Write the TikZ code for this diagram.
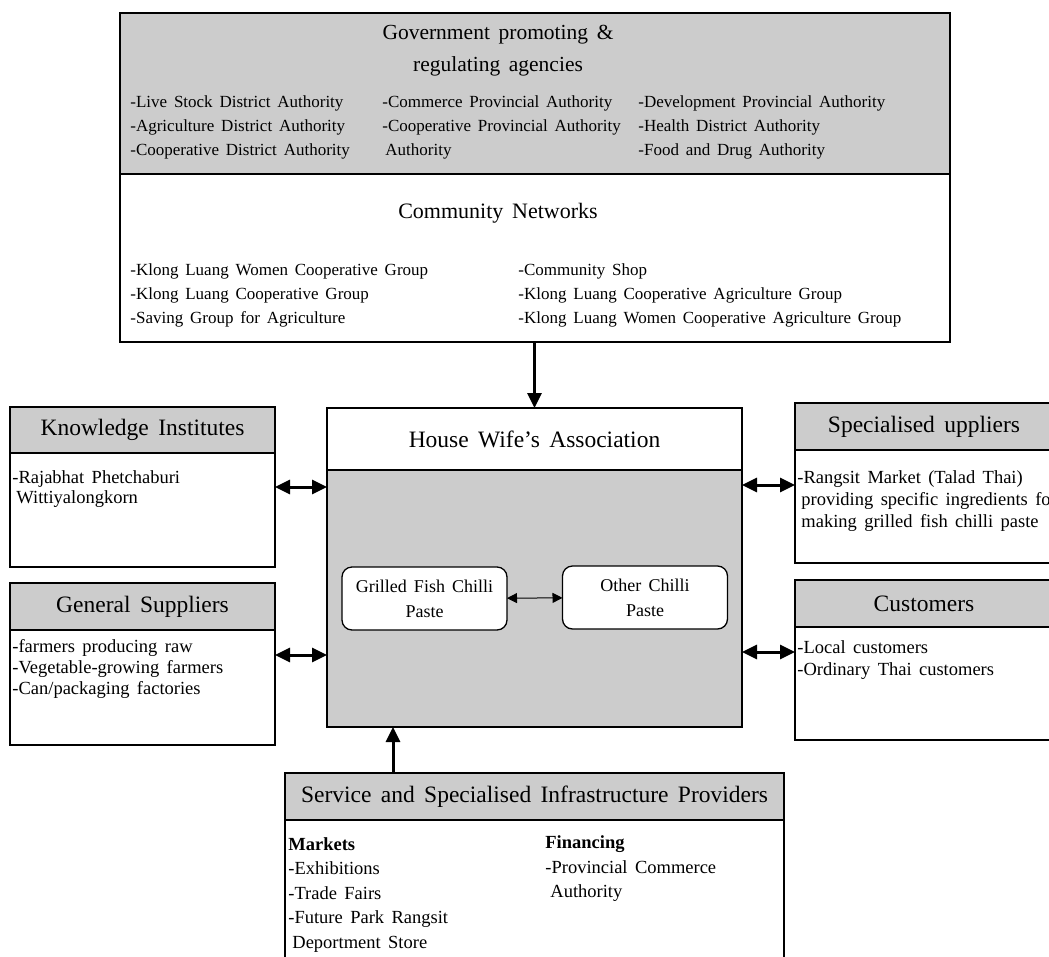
\documentclass[tikz,border=0pt]{standalone}
\usepackage{fontspec}
\setmainfont{Liberation Serif}[WordSpace=1.6]
\usetikzlibrary{calc, arrows.meta}

\tikzset{
box/.style={draw, line width=2.5pt, inner sep=0pt, outer sep=0pt},
headbox/.style={box, fill=black!20, font=\fontsize{23.5}{26}\selectfont},
item/.style={anchor=base west, inner sep=0pt, font=\fontsize{17}{20}\selectfont},
sideitem/.style={item, font=\fontsize{18.5}{21}\selectfont},
paste/.style={draw, fill=white, line width=1.3pt, rounded corners=10pt, align=center,
  minimum width=165pt, minimum height=63pt, inner sep=0pt, outer sep=0pt,
  font=\fontsize{18}{25}\selectfont},
bigarrow/.style={line width=3pt, {Triangle[length=15pt,width=14pt]}-{Triangle[length=15pt,width=14pt]}},
onearrow/.style={line width=3pt, -{Triangle[length=15pt,width=14pt]}},
smallarrow/.style={line width=1pt, {Triangle[length=10pt,width=10pt]}-{Triangle[length=10pt,width=10pt]}}
}

\begin{document}
\begin{tikzpicture}[thick, x=1pt, y=-1pt]
\useasboundingbox (0,0) rectangle (1049,956);
\clip (0,0) rectangle (1049,956);
					%%
\node[box, fill=black!20, minimum width=830pt, minimum height=161pt, anchor=north west] (gov) at (120,13) {};
\node[box, minimum width=830pt, minimum height=168pt, anchor=north west] (com) at (gov.south west) {};

\node[align=center, font=\fontsize{21.5}{32}\selectfont] (govt) at (498,51) {Government promoting \&\\regulating agencies};
\node[font=\fontsize{22}{24}\selectfont] (comt) at (498,213) {Community Networks};

\foreach \t [count=\i] in {-Live Stock District Authority, -Agriculture District Authority, -Cooperative District Authority}
\node[item] (ga\i) at (130, 83+24*\i) {\t};
\foreach \t [count=\i] in {-Commerce Provincial Authority, -Cooperative Provincial Authority, {\hspace*{3pt}Authority}}
\node[item] (gb\i) at (382, 83+24*\i) {\t};
\foreach \t [count=\i] in {-Development Provincial Authority, -Health District Authority, -Food and Drug Authority}
\node[item] (gc\i) at (638, 83+24*\i) {\t};

\foreach \t [count=\i] in {-Klong Luang Women Cooperative Group, -Klong Luang Cooperative Group, -Saving Group for Agriculture}
\node[item] (ca\i) at (130, 251+24*\i) {\t};
\foreach \t [count=\i] in {-Community Shop, -Klong Luang Cooperative Agriculture Group, -Klong Luang Women Cooperative Agriculture Group}
\node[item] (cb\i) at (518, 251+24*\i) {\t};

%% house wife's association
\node[box, fill=black!20, minimum width=415pt, minimum height=319pt, anchor=north west] (hwa) at (327,408) {};
\node[headbox, fill=white, minimum width=415pt, minimum height=62pt, anchor=north west] (hwah) at (hwa.north west) {House Wife's Association};
\node[paste] (gfc) at (424.5,598.5) {Grilled Fish Chilli\\Paste};
\node[paste] (ocp) at (645,597.5) {Other Chilli\\Paste};
\draw[smallarrow] (gfc) -- (ocp);

%% left side
\node[box, minimum width=265pt, minimum height=160pt, anchor=north west] (kno) at (10,407) {};
\node[headbox, minimum width=265pt, minimum height=46pt, anchor=north west] (knoh) at (kno.north west) {Knowledge Institutes};
\node[sideitem] (kno1) at (12,483) {-Rajabhat Phetchaburi};
\node[sideitem] (kno2) at (16,503) {Wittiyalongkorn};

\node[box, minimum width=265pt, minimum height=162pt, anchor=north west] (gen) at (10,583) {};
\node[headbox, minimum width=265pt, minimum height=47pt, anchor=north west] (genh) at (gen.north west) {General Suppliers};
\foreach \t [count=\i] in {-farmers producing raw, -Vegetable-growing farmers, -Can/packaging factories}
\node[sideitem] (gen\i) at (12, 631+21*\i) {\t};

%% right side
\node[box, minimum width=258pt, minimum height=160pt, anchor=north west] (spe) at (795,403) {};
\node[headbox, minimum width=258pt, minimum height=47pt, anchor=north west] (speh) at (spe.north west) {Specialised uppliers};
\node[sideitem] (spe1) at (797,483) {-Rangsit Market (Talad Thai)};
\node[sideitem] (spe2) at (801,505) {providing specific ingredients for};
\node[sideitem] (spe3) at (801,527) {making grilled fish chilli paste};

\node[box, minimum width=258pt, minimum height=160pt, anchor=north west] (cus) at (795,580) {};
\node[headbox, minimum width=258pt, minimum height=47pt, anchor=north west] (cush) at (cus.north west) {Customers};
\node[sideitem] (cus1) at (797,653) {-Local customers};
\node[sideitem] (cus2) at (797,675) {-Ordinary Thai customers};

%% bottom
\node[box, minimum width=499pt, minimum height=200pt, anchor=north west] (svc) at (285,773) {};
\node[headbox, minimum width=499pt, minimum height=47pt, anchor=north west] (svch) at (svc.north west) {Service and Specialised Infrastructure Providers};
\node[sideitem] (mk0) at (288,850) {\bfseries Markets};
\foreach \t [count=\i] in {-Exhibitions, -Trade Fairs, -Future Park Rangsit}
\node[sideitem] (mk\i) at (288, 850+24.5*\i) {\t};
\node[sideitem] (mk4) at (292,948) {Deportment Store};
\node[sideitem] (fn0) at (545,848) {\bfseries Financing};
\node[sideitem] (fn1) at (545,873) {-Provincial Commerce};
\node[sideitem] (fn2) at (550,897) {Authority};

%% connectors
\coordinate (up) at (393,773);
\draw[onearrow] (com.south -| hwa.north) -- (hwa.north);
\draw[onearrow] (up) -- (up |- hwa.south);
\draw[bigarrow] (kno.east) -- (kno.east -| hwa.west);
\draw[bigarrow] ([yshift=9pt]gen.east) -- ([yshift=9pt]gen.east -| hwa.west);
\draw[bigarrow] ([yshift=-2pt]hwa.east |- spe.west) -- ([yshift=-2pt]spe.west);
\draw[bigarrow] ([yshift=8pt]hwa.east |- cus.west) -- ([yshift=8pt]cus.west);
				\end{tikzpicture}
\end{document}
